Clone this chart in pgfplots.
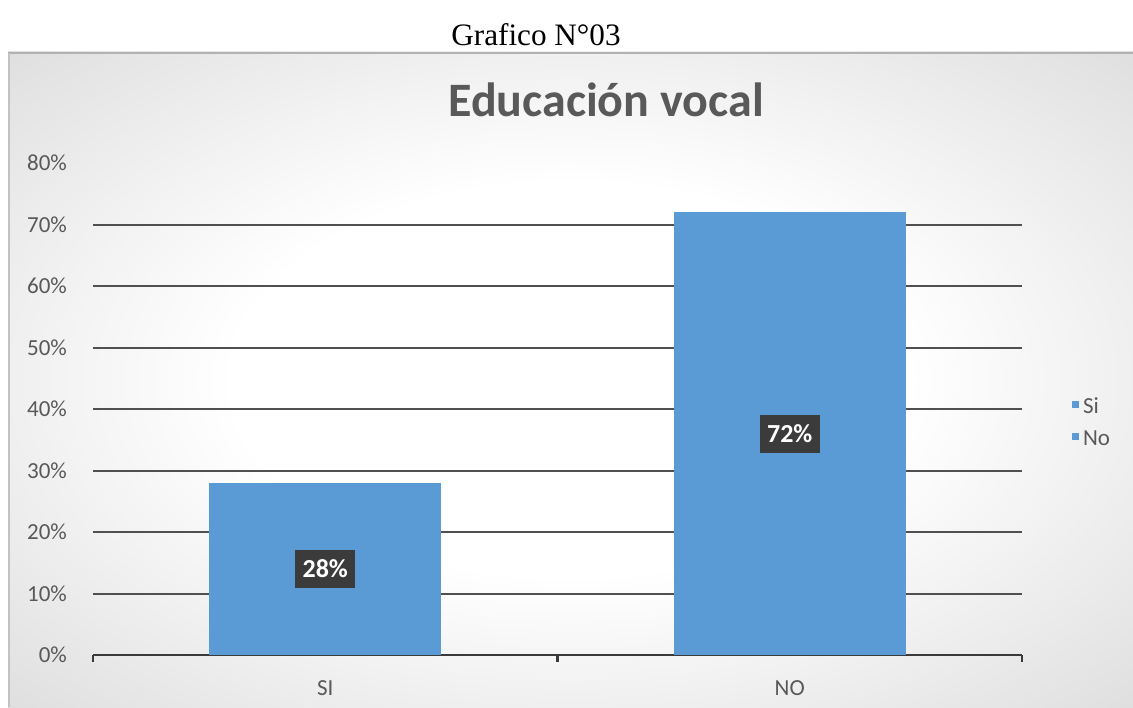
\documentclass[border=0pt]{standalone}
\usepackage{pgfplots}
\pgfplotsset{compat=1.18}
\usepackage{fontspec}
\setmainfont{Carlito}
\newfontfamily\timesfont{Liberation Serif}
\definecolor{barblue}{HTML}{5B9BD5}
\definecolor{gridgray}{HTML}{505050}
\definecolor{axisgray}{HTML}{3A3A3A}
\definecolor{labbox}{HTML}{3B3B3B}
\definecolor{txtgray}{HTML}{595959}
\pgfdeclareradialshading{chartbg}{\pgfpoint{0bp}{0bp}}{color(0bp)=(white); color(15bp)=(white); color(33bp)=(black!11); color(50bp)=(black!22); color(70bp)=(black!27); color(100bp)=(black!29)}
\begin{document}
\begin{tikzpicture}
\path[use as bounding box] (0,0) rectangle (566.5pt,353.5pt);
\shade[shading=chartbg] (4pt,0) rectangle (566.5pt,327.5pt);
\draw[black!30, line width=1pt] (4pt,327pt) -- (566.5pt,327pt);
\draw[black!24, line width=0.8pt] (4.4pt,0) -- (4.4pt,327pt);
\node[font=\timesfont\fontsize{15.6}{18}\selectfont] at (268pt,336pt) {Grafico N°03};
\node[font=\bfseries\fontsize{24}{28}\selectfont, text=txtgray] at (303pt,303.5pt) {Educación vocal};
\begin{axis}[
  at={(46.5pt,26pt)}, anchor=south west,
  scale only axis, width=464.5pt, height=246pt,
  xmin=-0.5, xmax=1.5, ymin=0, ymax=80,
  ybar, bar width=116pt, bar shift=0pt,
  axis x line*=bottom, axis y line*=left,
  x axis line style={draw=axisgray, line width=1.3pt, -},
  y axis line style={draw=none},
  xtick={-0.5,0.5,1.5}, xticklabels={},
  tick align=outside,
  xtick style={draw=axisgray, line width=1.3pt},
  major tick length=3.5pt,
  extra x ticks={0,1}, extra x tick labels={SI,NO},
  extra x tick style={major tick length=0pt, xtick style={draw=none}},
  ytick={0,10,...,80},
  yticklabel={\pgfmathprintnumber{\tick}\%},
  /pgf/number format/assume math mode=true,
  ytick style={draw=none},
  extra y ticks={10,20,...,70}, extra y tick labels={},
  extra y tick style={ymajorgrids=true, major grid style={draw=gridgray, line width=1pt}, ytick style={draw=none}},
  tick label style={font=\fontsize{11.5}{13}\selectfont, text=txtgray},
  yticklabel style={xshift=-6pt},
  xticklabel style={yshift=-9.5pt},
  legend style={at={(1.047,0.4715)}, anchor=west, draw=none, fill=none,
    font=\fontsize{11.5}{13}\selectfont, text=txtgray, row sep=3pt,
    /tikz/every even column/.append style={column sep=1pt}},
  legend image code/.code={\fill[#1] (0pt,-0.5pt) rectangle (3.5pt,3pt);},
  legend cell align=left,
]
\addplot[fill=barblue, draw=none] coordinates {(0,28)};
\addlegendentry{Si}
\addplot[fill=barblue, draw=none] coordinates {(1,72)};
\addlegendentry{No}
\addplot[draw=none, fill=none, forget plot,
  nodes near coords, point meta=explicit symbolic,
  every node near coord/.style={anchor=center, fill=labbox, text=white,
    font=\bfseries\fontsize{13}{15}\selectfont, minimum width=30pt, minimum height=19pt, inner sep=0pt}]
  coordinates {(0,14) [28\%] (1,36) [72\%]};
\end{axis}
\end{tikzpicture}
\end{document}
